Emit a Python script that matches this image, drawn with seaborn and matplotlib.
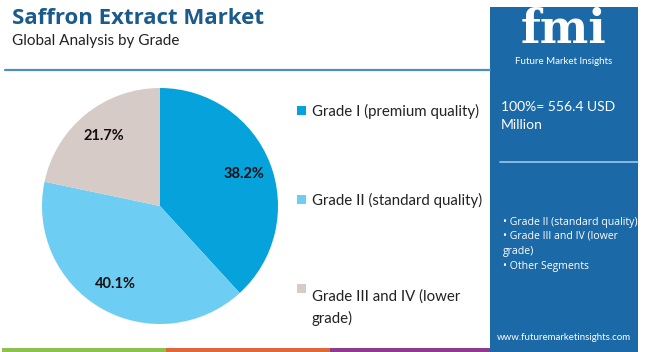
import matplotlib
matplotlib.use("Agg")
import matplotlib.pyplot as plt
import seaborn as sns
from matplotlib.patches import Rectangle

grades = ["Grade I (premium quality)", "Grade II (standard quality)", "Grade III and IV (lower\ngrade)"]
shares = [38.2, 40.1, 21.7]
colors = ["#05a2dc", "#6ecdf3", "#d6cbc7"]
panel_items = ["• Grade II (standard quality)", "• Grade III and IV (lower\ngrade)", "• Other Segments"]

sns.set_theme(style="white")
plt.rcParams["font.family"] = ["Lato", "DejaVu Sans"]

fig = plt.figure(figsize=(6.5, 3.52), dpi=100)
W, H = 650, 352

def fx(x):
    return x / W

def fy(y):
    return 1 - y / H

# title block
fig.text(fx(12), fy(18), "Saffron Extract Market", fontsize=16, fontweight="bold",
         color="#1b5b8c", va="center", ha="left", family=["Open Sans", "DejaVu Sans"])
fig.text(fx(12), fy(41), "Global Analysis by Grade", fontsize=11, color="#222222",
         va="center", ha="left")
fig.add_artist(plt.Line2D([fx(5), fx(490)], [fy(70), fy(70)], color="#4f8fc0", lw=1.6))

# bottom color strip
for x0, x1, c in [(2, 166, "#8cc04f"), (166, 330, "#e0673a"), (330, 492, "#8e3a8f")]:
    fig.add_artist(Rectangle((fx(x0), 0), fx(x1 - x0), 4 / H, color=c, lw=0))

# right panel
fig.add_artist(Rectangle((fx(490), 0), fx(148), fy(7), color="#1b69a6", lw=0))
fig.text(fx(564), fy(30), "fmi", fontsize=33, fontweight="bold", color="white",
         ha="center", va="center", family=["DejaVu Serif"])
fig.text(fx(564), fy(61), "Future Market Insights", fontsize=7, color="white",
         ha="center", va="center")
fig.text(fx(501), fy(116), "100%= 556.4 USD\nMillion", fontsize=10, color="white",
         ha="left", va="center", linespacing=1.6)
fig.add_artist(plt.Line2D([fx(500), fx(638)], [fy(162), fy(162)], color="#9cc9ea", lw=1.2))
fig.text(fx(503), fy(222), panel_items[0], fontsize=7.6, color="white", ha="left", va="center",
         family=["Open Sans", "DejaVu Sans"])
fig.text(fx(503), fy(244), panel_items[1], fontsize=7.6, color="white", ha="left", va="center",
         family=["Open Sans", "DejaVu Sans"], linespacing=1.5)
fig.text(fx(503), fy(267), panel_items[2], fontsize=7.6, color="white", ha="left", va="center",
         family=["Open Sans", "DejaVu Sans"])
fig.text(fx(564), fy(337), "www.futuremarketinsights.com", fontsize=7, color="white",
         ha="center", va="center")

# pie
cx, cy, r = 160, 206, 118
ax = fig.add_axes([fx(cx - r), fy(cy + r), fx(2 * r), 2 * r / H])
wedges, texts, autotexts = ax.pie(shares, colors=colors, startangle=90, counterclock=False,
                                  autopct="%.1f%%", pctdistance=0.76,
                                  wedgeprops=dict(linewidth=0))
for t in autotexts:
    t.set_fontsize(10.5)
    t.set_fontweight("bold")
    t.set_color("#111111")
ax.set_xlim(-1, 1)
ax.set_ylim(-1, 1)
ax.set_aspect("equal")
ax.axis("off")

# legend
for y, lab, c in zip([111, 200, 289], grades, colors):
    fig.add_artist(Rectangle((fx(297), fy(y + 4)), fx(9), 9 / H, color=c, lw=0))
    fig.text(fx(312), fy(y), lab, fontsize=10.8, color="#222222", ha="left",
             va="top" if "\n" in lab else "center", linespacing=1.6)

fig.savefig("out.png", dpi=100)
